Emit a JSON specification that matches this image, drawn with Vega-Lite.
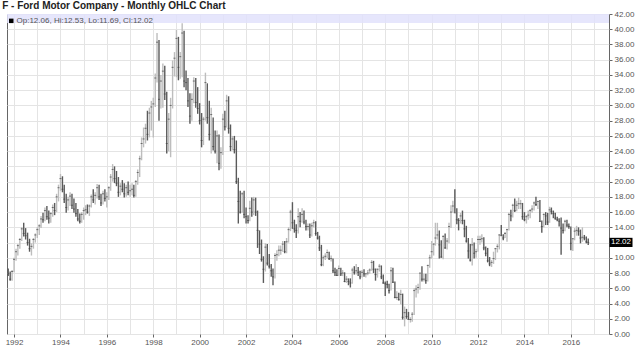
{
"$schema":"https://vega.github.io/schema/vega-lite/v6.json",
"width":602,"height":320,
"autosize":{"type":"none"},
"padding":{"left":7,"top":14,"right":31,"bottom":29},
"background":"white",
"title":{"text":"F - Ford Motor Company - Monthly OHLC Chart","anchor":"start","font":"Liberation Sans","fontSize":10,"fontWeight":"bold","color":"#222222","offset":0,"dx":-3,"dy":8.5,"baseline":"alphabetic"},
"config":{"view":{"stroke":"#666666","strokeWidth":1},"axis":{"labelFont":"Liberation Sans","labelFontSize":8,"labelColor":"#555555","tickColor":"#666666","gridColor":"#e4e4e4","domain":false,"title":null}},
"data":{"values":[
{"d":"1991-10-01","o":8.2,"h":8.6,"l":7.6,"c":7.9},
{"d":"1991-11-01","o":7.9,"h":8.2,"l":7.0,"c":7.2},
{"d":"1991-12-01","o":7.2,"h":8.4,"l":7.0,"c":8.2},
{"d":"1992-01-01","o":8.2,"h":10.0,"l":8.1,"c":9.8},
{"d":"1992-02-01","o":9.8,"h":11.2,"l":9.6,"c":10.8},
{"d":"1992-03-01","o":10.8,"h":11.8,"l":10.3,"c":11.6},
{"d":"1992-04-01","o":11.6,"h":12.6,"l":11.2,"c":12.4},
{"d":"1992-05-01","o":12.4,"h":14.0,"l":12.2,"c":13.8},
{"d":"1992-06-01","o":13.8,"h":14.6,"l":12.8,"c":13.2},
{"d":"1992-07-01","o":13.2,"h":13.9,"l":12.4,"c":12.9},
{"d":"1992-08-01","o":12.9,"h":13.3,"l":11.6,"c":12.0},
{"d":"1992-09-01","o":12.0,"h":12.5,"l":10.8,"c":11.2},
{"d":"1992-10-01","o":11.2,"h":11.9,"l":10.3,"c":11.5},
{"d":"1992-11-01","o":11.5,"h":12.6,"l":11.2,"c":12.4},
{"d":"1992-12-01","o":12.4,"h":13.2,"l":12.0,"c":13.0},
{"d":"1993-01-01","o":13.0,"h":14.0,"l":12.6,"c":13.7},
{"d":"1993-02-01","o":13.7,"h":14.4,"l":13.0,"c":14.2},
{"d":"1993-03-01","o":14.2,"h":15.5,"l":13.9,"c":15.1},
{"d":"1993-04-01","o":15.1,"h":15.9,"l":14.6,"c":15.0},
{"d":"1993-05-01","o":15.0,"h":16.6,"l":14.8,"c":16.2},
{"d":"1993-06-01","o":16.2,"h":16.8,"l":15.0,"c":15.4},
{"d":"1993-07-01","o":15.4,"h":16.2,"l":14.5,"c":15.2},
{"d":"1993-08-01","o":15.2,"h":16.0,"l":14.6,"c":15.8},
{"d":"1993-09-01","o":15.8,"h":17.0,"l":15.4,"c":16.6},
{"d":"1993-10-01","o":16.6,"h":17.2,"l":15.6,"c":16.2},
{"d":"1993-11-01","o":16.2,"h":18.4,"l":16.0,"c":18.0},
{"d":"1993-12-01","o":18.0,"h":19.6,"l":17.4,"c":19.2},
{"d":"1994-01-01","o":19.2,"h":21.0,"l":18.8,"c":20.4},
{"d":"1994-02-01","o":20.4,"h":20.7,"l":18.6,"c":19.0},
{"d":"1994-03-01","o":19.0,"h":19.6,"l":17.2,"c":17.7},
{"d":"1994-04-01","o":17.7,"h":18.4,"l":15.9,"c":16.6},
{"d":"1994-05-01","o":16.6,"h":18.0,"l":16.2,"c":17.6},
{"d":"1994-06-01","o":17.6,"h":18.6,"l":16.8,"c":18.1},
{"d":"1994-07-01","o":18.1,"h":18.4,"l":16.4,"c":16.9},
{"d":"1994-08-01","o":16.9,"h":17.8,"l":15.9,"c":16.4},
{"d":"1994-09-01","o":16.4,"h":17.2,"l":15.4,"c":15.8},
{"d":"1994-10-01","o":15.8,"h":16.4,"l":14.8,"c":15.1},
{"d":"1994-11-01","o":15.1,"h":15.8,"l":14.5,"c":14.8},
{"d":"1994-12-01","o":14.8,"h":16.0,"l":14.6,"c":15.7},
{"d":"1995-01-01","o":15.7,"h":16.6,"l":15.0,"c":16.2},
{"d":"1995-02-01","o":16.2,"h":16.9,"l":15.6,"c":16.3},
{"d":"1995-03-01","o":16.3,"h":17.0,"l":15.8,"c":16.0},
{"d":"1995-04-01","o":16.0,"h":17.0,"l":15.5,"c":16.8},
{"d":"1995-05-01","o":16.8,"h":18.3,"l":16.6,"c":18.0},
{"d":"1995-06-01","o":18.0,"h":19.0,"l":17.2,"c":17.6},
{"d":"1995-07-01","o":17.6,"h":18.6,"l":17.0,"c":18.2},
{"d":"1995-08-01","o":18.2,"h":19.7,"l":17.8,"c":19.2},
{"d":"1995-09-01","o":19.2,"h":19.6,"l":17.6,"c":18.0},
{"d":"1995-10-01","o":18.0,"h":18.4,"l":16.8,"c":17.2},
{"d":"1995-11-01","o":17.2,"h":18.8,"l":17.0,"c":18.4},
{"d":"1995-12-01","o":18.4,"h":19.0,"l":17.4,"c":17.8},
{"d":"1996-01-01","o":17.8,"h":18.6,"l":16.6,"c":18.0},
{"d":"1996-02-01","o":18.0,"h":19.4,"l":17.6,"c":19.2},
{"d":"1996-03-01","o":19.2,"h":21.0,"l":18.8,"c":20.6},
{"d":"1996-04-01","o":20.6,"h":22.3,"l":20.0,"c":21.6},
{"d":"1996-05-01","o":21.6,"h":22.0,"l":19.8,"c":20.4},
{"d":"1996-06-01","o":20.4,"h":21.4,"l":19.4,"c":19.8},
{"d":"1996-07-01","o":19.8,"h":20.6,"l":18.0,"c":18.6},
{"d":"1996-08-01","o":18.6,"h":19.8,"l":18.2,"c":19.4},
{"d":"1996-09-01","o":19.4,"h":20.2,"l":18.6,"c":19.0},
{"d":"1996-10-01","o":19.0,"h":19.8,"l":17.9,"c":18.4},
{"d":"1996-11-01","o":18.4,"h":19.6,"l":18.0,"c":19.2},
{"d":"1996-12-01","o":19.2,"h":20.0,"l":18.2,"c":18.6},
{"d":"1997-01-01","o":18.6,"h":19.6,"l":18.0,"c":18.8},
{"d":"1997-02-01","o":18.8,"h":19.8,"l":18.2,"c":19.0},
{"d":"1997-03-01","o":19.0,"h":19.6,"l":17.9,"c":18.2},
{"d":"1997-04-01","o":18.2,"h":20.2,"l":18.0,"c":20.0},
{"d":"1997-05-01","o":20.0,"h":21.6,"l":19.6,"c":21.2},
{"d":"1997-06-01","o":21.2,"h":23.4,"l":20.6,"c":23.0},
{"d":"1997-07-01","o":23.0,"h":25.8,"l":22.8,"c":25.0},
{"d":"1997-08-01","o":25.0,"h":27.1,"l":24.5,"c":25.6},
{"d":"1997-09-01","o":25.6,"h":27.6,"l":25.0,"c":27.0},
{"d":"1997-10-01","o":27.0,"h":29.3,"l":25.4,"c":26.2},
{"d":"1997-11-01","o":26.2,"h":29.7,"l":25.8,"c":29.0},
{"d":"1997-12-01","o":29.0,"h":30.6,"l":26.7,"c":29.8},
{"d":"1998-01-01","o":29.8,"h":31.0,"l":25.8,"c":30.2},
{"d":"1998-02-01","o":30.2,"h":34.2,"l":29.8,"c":33.6},
{"d":"1998-03-01","o":33.6,"h":39.5,"l":33.0,"c":38.3},
{"d":"1998-04-01","o":38.3,"h":38.6,"l":28.0,"c":30.8},
{"d":"1998-05-01","o":30.8,"h":34.0,"l":29.6,"c":33.2},
{"d":"1998-06-01","o":33.2,"h":35.5,"l":29.7,"c":34.5},
{"d":"1998-07-01","o":34.5,"h":35.2,"l":30.7,"c":31.5},
{"d":"1998-08-01","o":31.5,"h":31.8,"l":23.7,"c":25.0},
{"d":"1998-09-01","o":25.0,"h":29.0,"l":24.0,"c":28.2},
{"d":"1998-10-01","o":28.2,"h":31.0,"l":23.2,"c":30.0},
{"d":"1998-11-01","o":30.0,"h":35.9,"l":29.6,"c":35.0},
{"d":"1998-12-01","o":35.0,"h":37.0,"l":33.8,"c":36.2},
{"d":"1999-01-01","o":36.2,"h":39.9,"l":33.7,"c":38.8},
{"d":"1999-02-01","o":38.8,"h":39.0,"l":33.3,"c":35.0},
{"d":"1999-03-01","o":35.0,"h":37.0,"l":33.5,"c":36.4},
{"d":"1999-04-01","o":36.4,"h":40.8,"l":33.7,"c":39.5},
{"d":"1999-05-01","o":39.5,"h":39.8,"l":32.4,"c":33.2},
{"d":"1999-06-01","o":33.2,"h":34.6,"l":32.0,"c":33.0},
{"d":"1999-07-01","o":33.0,"h":33.6,"l":29.8,"c":30.6},
{"d":"1999-08-01","o":30.6,"h":31.6,"l":27.6,"c":28.6},
{"d":"1999-09-01","o":28.6,"h":31.6,"l":28.0,"c":30.8},
{"d":"1999-10-01","o":30.8,"h":33.7,"l":30.3,"c":33.2},
{"d":"1999-11-01","o":33.2,"h":33.6,"l":29.7,"c":30.4},
{"d":"1999-12-01","o":30.4,"h":32.4,"l":28.9,"c":29.6},
{"d":"2000-01-01","o":29.6,"h":30.3,"l":27.5,"c":28.0},
{"d":"2000-02-01","o":28.0,"h":29.0,"l":24.5,"c":25.4},
{"d":"2000-03-01","o":25.4,"h":28.5,"l":24.8,"c":28.2},
{"d":"2000-04-01","o":28.2,"h":34.3,"l":28.0,"c":33.0},
{"d":"2000-05-01","o":32.4,"h":32.9,"l":27.6,"c":28.4},
{"d":"2000-06-01","o":28.4,"h":30.6,"l":25.4,"c":26.2},
{"d":"2000-07-01","o":26.2,"h":29.7,"l":23.7,"c":28.8},
{"d":"2000-08-01","o":27.6,"h":28.4,"l":24.1,"c":24.6},
{"d":"2000-09-01","o":24.6,"h":26.7,"l":23.7,"c":24.0},
{"d":"2000-10-01","o":24.0,"h":26.7,"l":22.4,"c":26.0},
{"d":"2000-11-01","o":26.0,"h":26.2,"l":21.5,"c":22.4},
{"d":"2000-12-01","o":22.4,"h":24.5,"l":21.7,"c":23.8},
{"d":"2001-01-01","o":23.8,"h":28.9,"l":23.5,"c":28.2},
{"d":"2001-02-01","o":28.2,"h":29.3,"l":26.7,"c":27.2},
{"d":"2001-03-01","o":27.2,"h":31.4,"l":27.1,"c":30.6},
{"d":"2001-04-01","o":30.6,"h":31.2,"l":26.3,"c":27.0},
{"d":"2001-05-01","o":27.0,"h":27.5,"l":24.0,"c":24.6},
{"d":"2001-06-01","o":24.6,"h":26.0,"l":24.1,"c":25.6},
{"d":"2001-07-01","o":25.6,"h":26.0,"l":23.7,"c":24.2},
{"d":"2001-08-01","o":24.2,"h":25.4,"l":19.7,"c":20.0},
{"d":"2001-09-01","o":20.0,"h":20.5,"l":14.5,"c":17.4},
{"d":"2001-10-01","o":17.4,"h":18.8,"l":15.8,"c":16.0},
{"d":"2001-11-01","o":16.0,"h":18.6,"l":15.9,"c":18.4},
{"d":"2001-12-01","o":18.4,"h":18.8,"l":15.2,"c":15.7},
{"d":"2002-01-01","o":15.7,"h":16.6,"l":14.5,"c":15.4},
{"d":"2002-02-01","o":15.4,"h":15.6,"l":14.5,"c":14.9},
{"d":"2002-03-01","o":14.9,"h":17.5,"l":14.8,"c":16.5},
{"d":"2002-04-01","o":16.5,"h":17.9,"l":15.4,"c":16.0},
{"d":"2002-05-01","o":16.0,"h":18.0,"l":15.6,"c":17.6},
{"d":"2002-06-01","o":17.6,"h":17.9,"l":15.5,"c":16.0},
{"d":"2002-07-01","o":16.0,"h":16.2,"l":11.3,"c":13.6},
{"d":"2002-08-01","o":13.6,"h":13.6,"l":10.5,"c":11.8},
{"d":"2002-09-01","o":11.8,"h":12.4,"l":9.5,"c":9.8},
{"d":"2002-10-01","o":9.8,"h":10.2,"l":6.7,"c":8.5},
{"d":"2002-11-01","o":8.5,"h":11.9,"l":8.2,"c":11.4},
{"d":"2002-12-01","o":11.4,"h":11.8,"l":9.0,"c":9.3},
{"d":"2003-01-01","o":9.3,"h":10.5,"l":8.6,"c":8.9},
{"d":"2003-02-01","o":8.9,"h":9.2,"l":7.5,"c":8.3},
{"d":"2003-03-01","o":8.3,"h":8.6,"l":6.4,"c":7.5},
{"d":"2003-04-01","o":7.5,"h":10.6,"l":7.3,"c":10.3},
{"d":"2003-05-01","o":10.3,"h":11.0,"l":9.6,"c":10.4},
{"d":"2003-06-01","o":10.4,"h":11.6,"l":10.2,"c":11.0},
{"d":"2003-07-01","o":11.0,"h":11.6,"l":10.4,"c":11.0},
{"d":"2003-08-01","o":11.0,"h":12.2,"l":10.8,"c":11.8},
{"d":"2003-09-01","o":11.8,"h":12.2,"l":10.6,"c":10.8},
{"d":"2003-10-01","o":10.8,"h":12.6,"l":10.6,"c":12.1},
{"d":"2003-11-01","o":12.1,"h":14.0,"l":12.0,"c":13.7},
{"d":"2003-12-01","o":13.7,"h":16.3,"l":13.5,"c":16.0},
{"d":"2004-01-01","o":16.0,"h":17.3,"l":13.8,"c":14.6},
{"d":"2004-02-01","o":14.6,"h":15.0,"l":13.3,"c":13.8},
{"d":"2004-03-01","o":13.8,"h":14.4,"l":12.6,"c":13.6},
{"d":"2004-04-01","o":13.6,"h":16.5,"l":13.2,"c":15.4},
{"d":"2004-05-01","o":15.4,"h":16.0,"l":14.0,"c":14.8},
{"d":"2004-06-01","o":14.8,"h":16.5,"l":14.6,"c":15.7},
{"d":"2004-07-01","o":15.7,"h":16.2,"l":14.4,"c":14.7},
{"d":"2004-08-01","o":14.7,"h":15.0,"l":13.6,"c":14.1},
{"d":"2004-09-01","o":14.1,"h":14.5,"l":13.6,"c":14.1},
{"d":"2004-10-01","o":14.1,"h":14.5,"l":12.6,"c":13.0},
{"d":"2004-11-01","o":13.0,"h":14.6,"l":12.8,"c":14.2},
{"d":"2004-12-01","o":14.2,"h":15.0,"l":14.0,"c":14.6},
{"d":"2005-01-01","o":14.6,"h":14.8,"l":12.9,"c":13.2},
{"d":"2005-02-01","o":13.2,"h":13.4,"l":12.4,"c":12.6},
{"d":"2005-03-01","o":12.6,"h":12.9,"l":10.9,"c":11.3},
{"d":"2005-04-01","o":11.3,"h":11.7,"l":8.9,"c":9.1},
{"d":"2005-05-01","o":9.1,"h":10.3,"l":8.9,"c":10.0},
{"d":"2005-06-01","o":10.0,"h":10.6,"l":9.7,"c":10.2},
{"d":"2005-07-01","o":10.2,"h":11.1,"l":9.9,"c":10.7},
{"d":"2005-08-01","o":10.7,"h":10.8,"l":9.7,"c":9.9},
{"d":"2005-09-01","o":9.9,"h":10.3,"l":9.5,"c":9.9},
{"d":"2005-10-01","o":9.9,"h":9.9,"l":8.0,"c":8.3},
{"d":"2005-11-01","o":8.3,"h":8.7,"l":7.6,"c":8.1},
{"d":"2005-12-01","o":8.1,"h":8.5,"l":7.6,"c":7.7},
{"d":"2006-01-01","o":7.7,"h":9.0,"l":7.6,"c":8.6},
{"d":"2006-02-01","o":8.6,"h":8.7,"l":7.6,"c":7.9},
{"d":"2006-03-01","o":7.9,"h":8.4,"l":7.6,"c":8.0},
{"d":"2006-04-01","o":8.0,"h":8.1,"l":6.8,"c":6.9},
{"d":"2006-05-01","o":6.9,"h":7.6,"l":6.7,"c":7.2},
{"d":"2006-06-01","o":7.2,"h":7.3,"l":6.4,"c":6.9},
{"d":"2006-07-01","o":6.9,"h":7.3,"l":6.1,"c":6.7},
{"d":"2006-08-01","o":6.7,"h":8.7,"l":6.6,"c":8.4},
{"d":"2006-09-01","o":8.4,"h":8.9,"l":7.8,"c":8.1},
{"d":"2006-10-01","o":8.1,"h":9.2,"l":7.8,"c":8.3},
{"d":"2006-11-01","o":8.3,"h":8.8,"l":7.6,"c":8.1},
{"d":"2006-12-01","o":8.1,"h":8.3,"l":7.2,"c":7.5},
{"d":"2007-01-01","o":7.5,"h":8.4,"l":7.4,"c":8.1},
{"d":"2007-02-01","o":8.1,"h":8.5,"l":7.5,"c":7.9},
{"d":"2007-03-01","o":7.9,"h":8.0,"l":7.4,"c":7.9},
{"d":"2007-04-01","o":7.9,"h":8.4,"l":7.7,"c":8.0},
{"d":"2007-05-01","o":8.0,"h":8.6,"l":7.9,"c":8.4},
{"d":"2007-06-01","o":8.4,"h":9.7,"l":8.3,"c":9.4},
{"d":"2007-07-01","o":9.4,"h":9.6,"l":8.0,"c":8.5},
{"d":"2007-08-01","o":8.5,"h":8.6,"l":7.0,"c":7.8},
{"d":"2007-09-01","o":7.8,"h":8.6,"l":7.4,"c":8.5},
{"d":"2007-10-01","o":8.5,"h":9.2,"l":8.2,"c":8.9},
{"d":"2007-11-01","o":8.9,"h":9.0,"l":7.2,"c":7.5},
{"d":"2007-12-01","o":7.5,"h":7.8,"l":6.6,"c":6.7},
{"d":"2008-01-01","o":6.7,"h":6.9,"l":5.0,"c":6.6},
{"d":"2008-02-01","o":6.6,"h":7.0,"l":6.0,"c":6.5},
{"d":"2008-03-01","o":6.5,"h":6.6,"l":5.3,"c":5.7},
{"d":"2008-04-01","o":5.7,"h":8.8,"l":5.7,"c":8.3},
{"d":"2008-05-01","o":8.3,"h":8.7,"l":6.7,"c":6.8},
{"d":"2008-06-01","o":6.8,"h":6.9,"l":4.7,"c":4.8},
{"d":"2008-07-01","o":4.8,"h":5.6,"l":4.5,"c":4.8},
{"d":"2008-08-01","o":4.8,"h":5.4,"l":4.4,"c":4.5},
{"d":"2008-09-01","o":4.5,"h":5.8,"l":3.9,"c":5.2},
{"d":"2008-10-01","o":5.2,"h":5.3,"l":1.9,"c":2.2},
{"d":"2008-11-01","o":2.2,"h":3.6,"l":1.0,"c":2.8},
{"d":"2008-12-01","o":2.8,"h":3.3,"l":2.0,"c":2.3},
{"d":"2009-01-01","o":2.3,"h":2.9,"l":1.9,"c":1.9},
{"d":"2009-02-01","o":1.9,"h":2.2,"l":1.5,"c":1.9},
{"d":"2009-03-01","o":1.9,"h":2.9,"l":1.6,"c":2.6},
{"d":"2009-04-01","o":2.6,"h":6.0,"l":2.5,"c":5.7},
{"d":"2009-05-01","o":5.7,"h":6.4,"l":4.8,"c":5.9},
{"d":"2009-06-01","o":5.9,"h":6.6,"l":5.3,"c":6.1},
{"d":"2009-07-01","o":6.1,"h":8.0,"l":5.8,"c":8.0},
{"d":"2009-08-01","o":8.0,"h":8.9,"l":6.9,"c":7.2},
{"d":"2009-09-01","o":7.2,"h":7.9,"l":6.9,"c":7.2},
{"d":"2009-10-01","o":7.2,"h":7.9,"l":6.6,"c":7.0},
{"d":"2009-11-01","o":7.0,"h":9.1,"l":6.9,"c":9.0},
{"d":"2009-12-01","o":9.0,"h":10.4,"l":8.7,"c":10.0},
{"d":"2010-01-01","o":10.0,"h":12.2,"l":9.9,"c":10.8},
{"d":"2010-02-01","o":10.8,"h":11.9,"l":10.3,"c":11.8},
{"d":"2010-03-01","o":11.8,"h":14.6,"l":11.6,"c":12.6},
{"d":"2010-04-01","o":12.6,"h":14.6,"l":12.4,"c":13.0},
{"d":"2010-05-01","o":13.0,"h":13.6,"l":9.9,"c":11.7},
{"d":"2010-06-01","o":11.7,"h":12.3,"l":10.0,"c":10.1},
{"d":"2010-07-01","o":10.1,"h":13.0,"l":9.8,"c":12.8},
{"d":"2010-08-01","o":12.8,"h":13.2,"l":11.2,"c":11.3},
{"d":"2010-09-01","o":11.3,"h":12.6,"l":11.1,"c":12.2},
{"d":"2010-10-01","o":12.2,"h":14.6,"l":11.9,"c":14.1},
{"d":"2010-11-01","o":14.1,"h":16.9,"l":13.9,"c":16.0},
{"d":"2010-12-01","o":16.0,"h":17.5,"l":15.9,"c":16.8},
{"d":"2011-01-01","o":16.8,"h":19.0,"l":15.9,"c":15.9},
{"d":"2011-02-01","o":15.9,"h":16.5,"l":14.4,"c":15.0},
{"d":"2011-03-01","o":15.0,"h":15.2,"l":13.6,"c":14.9},
{"d":"2011-04-01","o":14.9,"h":15.9,"l":14.5,"c":15.5},
{"d":"2011-05-01","o":15.5,"h":16.2,"l":14.4,"c":14.9},
{"d":"2011-06-01","o":14.9,"h":15.0,"l":12.7,"c":13.8},
{"d":"2011-07-01","o":13.8,"h":14.2,"l":12.0,"c":12.2},
{"d":"2011-08-01","o":12.2,"h":12.6,"l":9.9,"c":10.9},
{"d":"2011-09-01","o":10.9,"h":11.8,"l":9.5,"c":9.7},
{"d":"2011-10-01","o":9.7,"h":12.6,"l":9.0,"c":11.7},
{"d":"2011-11-01","o":11.7,"h":12.0,"l":9.9,"c":10.6},
{"d":"2011-12-01","o":10.6,"h":11.2,"l":10.0,"c":10.8},
{"d":"2012-01-01","o":10.8,"h":12.9,"l":10.8,"c":12.4},
{"d":"2012-02-01","o":12.4,"h":12.9,"l":11.7,"c":12.4},
{"d":"2012-03-01","o":12.4,"h":13.1,"l":12.0,"c":12.5},
{"d":"2012-04-01","o":12.5,"h":12.7,"l":11.0,"c":11.3},
{"d":"2012-05-01","o":11.3,"h":11.5,"l":10.2,"c":10.6},
{"d":"2012-06-01","o":10.6,"h":11.3,"l":9.4,"c":9.6},
{"d":"2012-07-01","o":9.6,"h":10.1,"l":8.9,"c":9.2},
{"d":"2012-08-01","o":9.2,"h":9.7,"l":8.8,"c":9.4},
{"d":"2012-09-01","o":9.4,"h":10.8,"l":9.2,"c":9.9},
{"d":"2012-10-01","o":9.9,"h":11.3,"l":9.7,"c":11.2},
{"d":"2012-11-01","o":11.2,"h":11.8,"l":10.7,"c":11.5},
{"d":"2012-12-01","o":11.5,"h":13.1,"l":11.1,"c":13.0},
{"d":"2013-01-01","o":13.0,"h":14.3,"l":12.9,"c":12.9},
{"d":"2013-02-01","o":12.9,"h":13.1,"l":12.3,"c":12.6},
{"d":"2013-03-01","o":12.6,"h":13.4,"l":12.6,"c":13.2},
{"d":"2013-04-01","o":13.2,"h":13.8,"l":12.1,"c":13.7},
{"d":"2013-05-01","o":13.7,"h":15.9,"l":13.6,"c":15.7},
{"d":"2013-06-01","o":15.7,"h":16.3,"l":14.8,"c":15.5},
{"d":"2013-07-01","o":15.5,"h":17.1,"l":15.3,"c":16.9},
{"d":"2013-08-01","o":16.9,"h":17.8,"l":16.0,"c":16.2},
{"d":"2013-09-01","o":16.2,"h":17.5,"l":16.1,"c":16.9},
{"d":"2013-10-01","o":16.9,"h":17.9,"l":16.4,"c":17.1},
{"d":"2013-11-01","o":17.1,"h":17.6,"l":16.4,"c":17.1},
{"d":"2013-12-01","o":17.1,"h":17.2,"l":15.0,"c":15.4},
{"d":"2014-01-01","o":15.4,"h":16.0,"l":14.8,"c":15.0},
{"d":"2014-02-01","o":15.0,"h":15.6,"l":14.5,"c":15.4},
{"d":"2014-03-01","o":15.4,"h":16.2,"l":15.0,"c":15.6},
{"d":"2014-04-01","o":15.6,"h":16.4,"l":15.2,"c":16.2},
{"d":"2014-05-01","o":16.2,"h":16.9,"l":15.9,"c":16.4},
{"d":"2014-06-01","o":16.4,"h":17.4,"l":16.2,"c":17.2},
{"d":"2014-07-01","o":17.2,"h":18.0,"l":16.8,"c":17.0},
{"d":"2014-08-01","o":17.0,"h":17.5,"l":16.4,"c":17.4},
{"d":"2014-09-01","o":17.4,"h":17.6,"l":14.7,"c":14.8},
{"d":"2014-10-01","o":14.8,"h":14.9,"l":13.3,"c":14.1},
{"d":"2014-11-01","o":14.1,"h":15.8,"l":14.0,"c":15.7},
{"d":"2014-12-01","o":15.7,"h":16.0,"l":14.3,"c":15.5},
{"d":"2015-01-01","o":15.5,"h":15.9,"l":14.3,"c":14.7},
{"d":"2015-02-01","o":14.7,"h":16.7,"l":14.6,"c":16.3},
{"d":"2015-03-01","o":16.3,"h":16.6,"l":15.7,"c":16.1},
{"d":"2015-04-01","o":16.1,"h":16.2,"l":15.2,"c":15.8},
{"d":"2015-05-01","o":15.8,"h":15.9,"l":15.0,"c":15.2},
{"d":"2015-06-01","o":15.2,"h":15.4,"l":14.8,"c":15.0},
{"d":"2015-07-01","o":15.0,"h":15.2,"l":14.1,"c":14.8},
{"d":"2015-08-01","o":14.8,"h":15.3,"l":10.4,"c":13.9},
{"d":"2015-09-01","o":13.9,"h":14.5,"l":13.2,"c":13.6},
{"d":"2015-10-01","o":13.6,"h":15.0,"l":13.5,"c":14.8},
{"d":"2015-11-01","o":14.8,"h":15.0,"l":14.0,"c":14.3},
{"d":"2015-12-01","o":14.3,"h":14.5,"l":13.8,"c":14.1},
{"d":"2016-01-01","o":14.1,"h":14.1,"l":11.0,"c":11.9},
{"d":"2016-02-01","o":11.9,"h":12.6,"l":10.9,"c":12.5},
{"d":"2016-03-01","o":12.5,"h":13.9,"l":12.3,"c":13.5},
{"d":"2016-04-01","o":13.5,"h":14.2,"l":12.9,"c":13.6},
{"d":"2016-05-01","o":13.6,"h":14.0,"l":12.9,"c":13.5},
{"d":"2016-06-01","o":13.5,"h":13.7,"l":11.9,"c":12.6},
{"d":"2016-07-01","o":12.6,"h":14.0,"l":12.1,"c":12.7},
{"d":"2016-08-01","o":12.7,"h":13.0,"l":12.3,"c":12.6},
{"d":"2016-09-01","o":12.6,"h":12.8,"l":11.9,"c":12.1},
{"d":"2016-10-01","o":12.06,"h":12.53,"l":11.69,"c":12.02}
]},
"layer":[
{"data":{"values":[{}]},
 "mark":{"type":"rect","color":"#e2e2fb","opacity":0.85},
 "encoding":{"y":{"datum":42,"type":"quantitative","scale":{"domain":[0,42],"nice":false,"zero":true},
       "axis":{"orient":"right","grid":true,"tickCount":50,"values":[0,2,4,6,8,10,12,14,16,18,20,22,24,26,28,30,32,34,36,38,40,42],"labelExpr":"datum.value == 12 ? '' : format(datum.value, '.2f')","tickSize":3,"labelPadding":2,"labelOverlap":false}},"y2":{"datum":40.82}}},
{"mark":{"type":"rule","strokeWidth":1.4},
 "encoding":{
  "x":{"field":"d","type":"temporal",
       "scale":{"type":"utc","domain":[{"year":1991,"month":9,"date":12,"utc":true},{"year":2017,"month":8,"date":24,"utc":true}]},
       "axis":{"orient":"bottom","grid":true,"tickSize":3,"labelPadding":1,"labelOverlap":false,"tickCount":60,
               "values":[{"year":1992,"utc":true},{"year":1993,"utc":true},{"year":1994,"utc":true},{"year":1995,"utc":true},{"year":1996,"utc":true},{"year":1997,"utc":true},{"year":1998,"utc":true},{"year":1999,"utc":true},{"year":2000,"utc":true},{"year":2001,"utc":true},{"year":2002,"utc":true},{"year":2003,"utc":true},{"year":2004,"utc":true},{"year":2005,"utc":true},{"year":2006,"utc":true},{"year":2007,"utc":true},{"year":2008,"utc":true},{"year":2009,"utc":true},{"year":2010,"utc":true},{"year":2011,"utc":true},{"year":2012,"utc":true},{"year":2013,"utc":true},{"year":2014,"utc":true},{"year":2015,"utc":true},{"year":2016,"utc":true},{"year":2017,"utc":true}],
               "labelExpr":"utcyear(datum.value) % 2 == 0 ? utcFormat(datum.value, '%Y') : ''",
               "tickOpacity":{"condition":{"test":"utcyear(datum.value) % 2 == 0","value":1},"value":0}}},
  "y":{"field":"l","type":"quantitative",
       "axis":{"orient":"right","grid":true,"tickCount":50,"values":[0,2,4,6,8,10,12,14,16,18,20,22,24,26,28,30,32,34,36,38,40,42],"labelExpr":"datum.value == 12 ? '' : format(datum.value, '.2f')","tickSize":3,"labelPadding":2,"labelOverlap":false}},
  "y2":{"field":"h"},
  "color":{"condition":{"test":"datum.c >= datum.o","value":"#bdbdbd"},"value":"#5a5a5a"}}},
{"mark":{"type":"tick","orient":"horizontal","size":2,"thickness":1,"color":"#444444"},
 "encoding":{"x":{"field":"d","type":"temporal"},"y":{"field":"c","type":"quantitative"}}},
{"transform":[{"filter":"datum.o == 12.06 && datum.c == 12.02"},{"calculate":"'Op:' + format(datum.o, '.2f') + ', Hi:' + format(datum.h, '.2f') + ', Lo:' + format(datum.l, '.2f') + ', Cl:' + format(datum.c, '.2f')","as":"lab"}],
 "layer":[
  {"mark":{"type":"text","align":"left","baseline":"middle","font":"Liberation Sans","fontSize":8,"color":"#555555"},
   "encoding":{"x":{"datum":{"year":1992,"month":2,"date":9,"utc":true},"type":"temporal"},"y":{"datum":41.1,"type":"quantitative"},"text":{"field":"lab"}}},
  {"mark":{"type":"point","shape":"square","filled":true,"size":20,"color":"#000000","opacity":1},
   "encoding":{"x":{"datum":{"year":1991,"month":11,"date":18,"utc":true},"type":"temporal"},"y":{"datum":41.1,"type":"quantitative"}}},
  {"mark":{"type":"point","shape":"M-1,-0.4H1V0.4H-1Z","filled":true,"size":529,"color":"#000000","opacity":1},
   "encoding":{"x":{"datum":{"year":2018,"month":3,"date":1,"utc":true},"type":"temporal"},"y":{"field":"c","type":"quantitative"}}},
  {"mark":{"type":"text","align":"center","baseline":"middle","font":"Liberation Sans","fontSize":8,"color":"#ffffff"},
   "encoding":{"x":{"datum":{"year":2018,"month":3,"date":1,"utc":true},"type":"temporal"},"y":{"field":"c","type":"quantitative"},"text":{"field":"c","type":"quantitative","format":".2f"}}}
 ]}
]
}
